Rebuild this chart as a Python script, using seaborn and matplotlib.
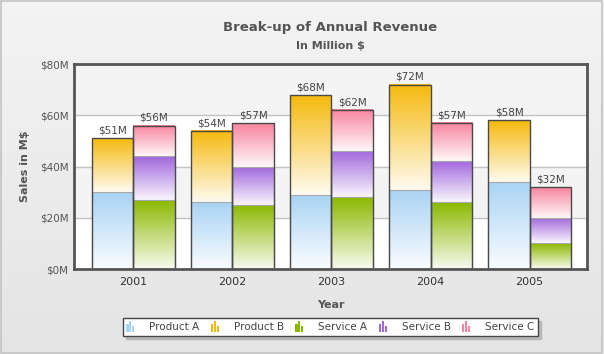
import numpy as np
import pandas as pd
import matplotlib
matplotlib.use('Agg')
import matplotlib.pyplot as plt
from matplotlib.patches import Patch, Rectangle
from matplotlib.legend_handler import HandlerBase
from matplotlib.colors import to_rgb
import seaborn as sns

# datos (millones de $)
years = ['2001', '2002', '2003', '2004', '2005']
product_a = [30, 26, 29, 31, 34]
product_b = [21, 28, 39, 41, 24]
service_a = [27, 25, 28, 26, 10]
service_b = [17, 15, 18, 16, 10]
service_c = [12, 17, 16, 15, 12]

series_names = ['Product A', 'Product B', 'Service A', 'Service B', 'Service C']
series_colors = ['#a9d3f4', '#f5b90d', '#8bb800', '#a066dc', '#f8849f']
y_ticks = [0, 20, 40, 60, 80]
y_ticklabels = ['$0M', '$20M', '$40M', '$60M', '$80M']

groups = {'Product': [product_a, product_b],
          'Service': [service_a, service_b, service_c]}
group_colors = {'Product': series_colors[:2], 'Service': series_colors[2:]}
cums = {g: np.cumsum(np.array(s), axis=0) for g, s in groups.items()}

sns.set_style('white')
plt.rcParams['font.family'] = ['DejaVu Sans']
plt.rcParams['image.composite_image'] = False

fig = plt.figure(figsize=(6.04, 3.54), dpi=100)

# fondo gris con degrade
bg = fig.add_axes([0, 0, 1, 1], zorder=-10)
grad_bg = np.linspace(0.955, 0.895, 256).reshape(-1, 1)
bg.imshow(np.dstack([grad_bg] * 3), aspect='auto', extent=[0, 1, 0, 1])
bg.add_patch(Rectangle((0.002, 0.003), 0.995, 0.993, fill=False,
                       edgecolor='#c4c4c4', lw=1.2))
bg.set_xlim(0, 1)
bg.set_ylim(0, 1)
bg.axis('off')

ax = fig.add_axes([0.1225, 0.2401, 0.8494, 0.5791])
ax.patch.set_facecolor('white')
ax.axhspan(20, 40, color='#f4f4f4', zorder=0)
ax.axhspan(60, 80, color='#f4f4f4', zorder=0)
for yv in [20, 40, 60]:
    ax.axhline(yv, color='#c4c4c4', lw=1, zorder=0.5)


def gradient(color, n=128):
    c = np.array(to_rgb(color))
    bottom = c + (1 - c) * 0.94
    t = np.linspace(0, 1, n).reshape(-1, 1)
    arr = c[None, :] * (1 - t) + bottom[None, :] * t
    return arr.reshape(n, 1, 3)


# una capa por segmento apilado
for k in range(3):
    rows = []
    for g in groups:
        if k < len(cums[g]):
            for j, yr in enumerate(years):
                rows.append({'year': yr, 'grp': g, 'value': int(cums[g][k][j])})
    df = pd.DataFrame(rows)
    before = len(ax.patches)
    sns.barplot(data=df, x='year', y='value', hue='grp', order=years,
                hue_order=['Product', 'Service'], dodge=True, width=0.83,
                errorbar=None, legend=False, ax=ax)
    for p in ax.patches[before:]:
        cx = p.get_x() + p.get_width() / 2
        j = int(round(cx))
        g = 'Product' if cx < j else 'Service'
        top = p.get_height()
        bottom = cums[g][k - 1][j] if k > 0 else 0
        ax.imshow(gradient(group_colors[g][k]), aspect='auto',
                  extent=[p.get_x(), p.get_x() + p.get_width(), bottom, top],
                  zorder=2, interpolation='bilinear')
        p.set_facecolor('none')
        if k == len(cums[g]) - 1:
            p.set_edgecolor('#4a4a4a')
            p.set_linewidth(1.0)
            p.set_zorder(4)
            ax.text(cx, top + 1.0, f'${int(round(top))}M', ha='center',
                    va='bottom', fontsize=7.5, color='#444444', zorder=6)
        else:
            p.set_edgecolor('#a8a8a8')
            p.set_linewidth(0.8)
            p.set_zorder(3)

ax.set_xlim(-0.6, 4.58)
ax.set_ylim(0, 80)
ax.set_yticks(y_ticks)
ax.set_yticklabels(y_ticklabels)
ax.tick_params(axis='y', length=0, pad=4, labelsize=7.5, labelcolor='#555555')
ax.tick_params(axis='x', length=0, pad=6, labelsize=8, labelcolor='#333333')
for s in ax.spines.values():
    s.set_color('#555555')
    s.set_linewidth(2)
    s.set_zorder(7)

ax.set_xlabel('Year', fontsize=8, fontweight='bold', color='#555555', labelpad=9)
ax.set_ylabel('Sales in M$', fontsize=8, fontweight='bold', color='#555555', labelpad=7)

fig.text(0.547, 0.922, 'Break-up of Annual Revenue', ha='center', va='center',
         fontsize=9.5, fontweight='bold', color='#555555')
fig.text(0.547, 0.870, 'In Million $', ha='center', va='center',
         fontsize=8, fontweight='bold', color='#555555')


class MiniBars(HandlerBase):
    def create_artists(self, legend, orig_handle, xdescent, ydescent,
                       width, height, fontsize, trans):
        c = orig_handle.get_facecolor()
        hs = [0.75, 1.0, 0.5]
        bw = width / 4.0
        arts = []
        for i, h in enumerate(hs):
            r = Rectangle((-xdescent + i * bw * 1.4, -ydescent - 1), bw,
                          (height + 2) * h, facecolor=c, edgecolor='none',
                          transform=trans)
            arts.append(r)
        return arts


handles = [Patch(facecolor=c) for c in series_colors]
leg = fig.legend(handles, series_names, loc='center', ncol=5,
                 bbox_to_anchor=(0.547, 0.076), fontsize=7.5,
                 handler_map={Patch: MiniBars()}, handlelength=0.8,
                 handleheight=0.8, handletextpad=1.4, columnspacing=1.1,
                 frameon=True, fancybox=False,
                 shadow={'color': '#9a9a9a', 'alpha': 0.5},
                 borderpad=0.35, labelcolor='#444444')
leg.get_frame().set_edgecolor('#444444')
leg.get_frame().set_linewidth(1.0)

fig.savefig('out.png', dpi=100)
